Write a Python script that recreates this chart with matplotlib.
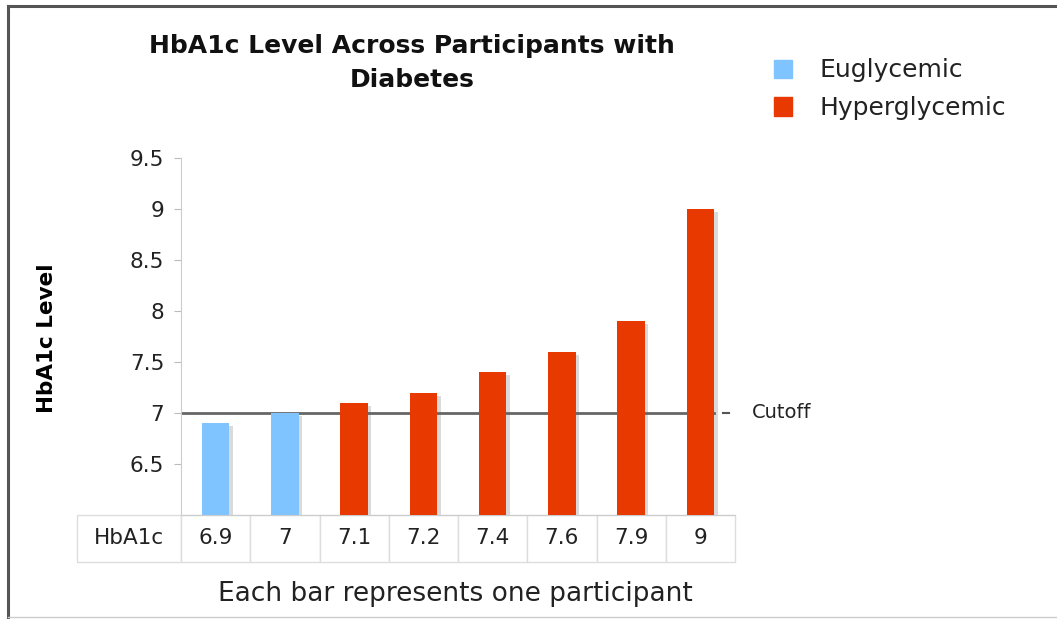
import matplotlib.pyplot as plt
from matplotlib.lines import Line2D
from matplotlib.patches import Patch

# data
participants = ["6.9", "7", "7.1", "7.2", "7.4", "7.6", "7.9", "9"]
hba1c = [6.9, 7.0, 7.1, 7.2, 7.4, 7.6, 7.9, 9.0]
groups = ["Euglycemic", "Euglycemic", "Hyperglycemic", "Hyperglycemic",
          "Hyperglycemic", "Hyperglycemic", "Hyperglycemic", "Hyperglycemic"]
cutoff = 7.0
y_ticks = [6.5, 7, 7.5, 8, 8.5, 9, 9.5]

colors = {"Euglycemic": "#80c4ff", "Hyperglycemic": "#e83a00"}

plt.rcParams["font.family"] = ["DejaVu Sans"]

W, H = 1057, 619
fig = plt.figure(figsize=(W / 100, H / 100), dpi=100)


def fx(px):
    return px / W


def fy(py):
    return 1 - py / H


# outer frame (top, left, bottom)
fig.add_artist(Line2D([fx(8), 1], [fy(6), fy(6)], color="#555555", lw=2.2))
fig.add_artist(Line2D([fx(8), fx(8)], [fy(6), fy(617)], color="#555555", lw=2.2))
fig.add_artist(Line2D([fx(8), 1], [fy(617), fy(617)], color="#cccccc", lw=1.0))

ax = fig.add_axes([fx(181), fy(515), fx(735) - fx(181), fy(158) - fy(515)])

x = list(range(len(hba1c)))
base = 6.0
ax.bar([i + 0.05 for i in x], [v - base - 0.03 for v in hba1c], bottom=base,
       width=0.4, color="#dadada", zorder=1)
ax.plot([-0.5, 7.2], [cutoff, cutoff], color="#666666", lw=2, zorder=2)
ax.bar(x, [v - base for v in hba1c], bottom=base, width=0.4,
       color=[colors[g] for g in groups], zorder=3)

ax.plot([7.33, 7.41], [cutoff, cutoff], color="#555555", lw=1.5, clip_on=False)
ax.text(7.74, cutoff, "Cutoff", fontsize=14, va="center", ha="left", color="#222222")

ax.set_xlim(-0.5, 7.5)
ax.set_ylim(6.0, 9.5)
ax.set_yticks(y_ticks)
ax.set_yticklabels([f"{t:g}" for t in y_ticks], fontsize=15.5, color="#222222")
ax.tick_params(axis="y", length=5, color="#bbbbbb", pad=7)
ax.set_xticks([])
for s in ["top", "right"]:
    ax.spines[s].set_visible(False)
ax.spines["left"].set_color("#cccccc")
ax.spines["bottom"].set_color("#cccccc")

ax.set_ylabel("HbA1c Level", fontsize=15.5, fontweight="bold")
ax.yaxis.set_label_coords((57 - 181) / 554, (515 - 338) / 357)

# table under the bars
first_w = 104 / 658
col_w = [first_w] + [(1 - first_w) / len(participants)] * len(participants)
tbl = ax.table(cellText=[["HbA1c"] + participants], colWidths=col_w,
               cellLoc="center", bbox=[-104 / 554, -47 / 357, 658 / 554, 47 / 357])
tbl.auto_set_font_size(False)
tbl.set_fontsize(15.5)
for cell in tbl.get_celld().values():
    cell.set_edgecolor("#dddddd")
    cell.set_linewidth(1)
    cell.get_text().set_color("#222222")

fig.text(fx(455), fy(594), "Each bar represents one participant",
         fontsize=19, ha="center", va="center", color="#222222")

fig.text(fx(412), fy(63), "HbA1c Level Across Participants with\nDiabetes",
         fontsize=18, fontweight="bold", ha="center", va="center",
         linespacing=1.5, color="#111111")

handles = [Patch(color=colors[k]) for k in ["Euglycemic", "Hyperglycemic"]]
fig.legend(handles, ["Euglycemic", "Hyperglycemic"], loc="upper left",
           bbox_to_anchor=(fx(751), fy(36)), frameon=False, fontsize=18,
           handlelength=0.75, handleheight=0.75, handletextpad=1.1,
           labelspacing=0.55, labelcolor="#222222")

fig.savefig("out.png", dpi=100)
